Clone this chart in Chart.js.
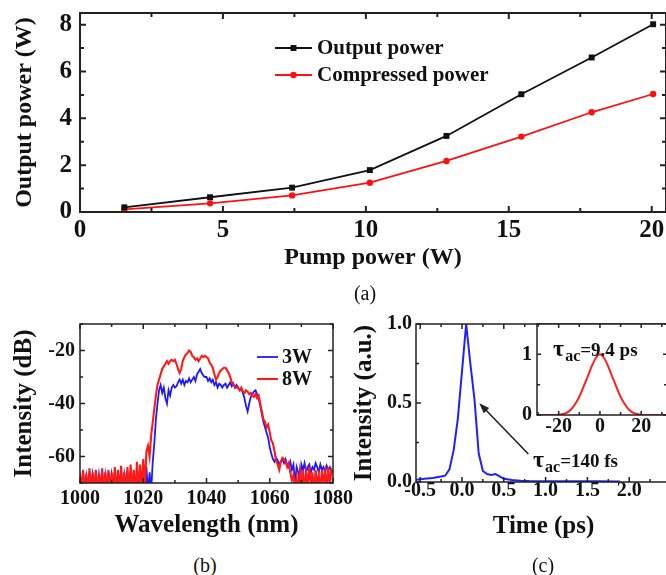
<!DOCTYPE html>
<html>
<head>
<meta charset="utf-8">
<script src="https://cdn.jsdelivr.net/npm/chart.js@4.4.0/dist/chart.umd.min.js"></script>
<style>
  body { margin: 0; width: 666px; height: 575px; overflow: hidden; background: #fff; position: relative; font-family: "Liberation Serif", "Times New Roman", serif; }
  canvas { position: absolute; }
  .tag { position: absolute; font-size: 20px; color: #111; transform: translate(-50%, -50%); }
</style>
</head>
<body>
<canvas id="chartA" width="672" height="278" style="left:0;top:0"></canvas>
<canvas id="chartB" width="370" height="250" style="left:0;top:300px"></canvas>
<canvas id="chartC" width="340" height="250" style="left:340px;top:300px"></canvas>
<canvas id="chartInset" width="175" height="125" style="left:505px;top:318px"></canvas>
<div class="tag" style="left:365px;top:293px">(a)</div>
<div class="tag" style="left:205px;top:565px">(b)</div>
<div class="tag" style="left:543px;top:565px">(c)</div>
<script>
// (a) output power vs pump power
const pumpPower = [1.55, 4.55, 7.42, 10.14, 12.82, 15.44, 17.9, 20.05];
const outputPower = [0.2, 0.63, 1.04, 1.79, 3.25, 5.03, 6.6, 8.02];
const compressedPower = [0.11, 0.37, 0.71, 1.25, 2.18, 3.22, 4.26, 5.04];
const pumpTicks = [0, 5, 10, 15, 20];
const powerTicks = [0, 2, 4, 6, 8];

// (b) spectra, 1000..1080 nm every 0.5 nm
const wavelength = [];
for (let i = 0; i <= 160; i++) wavelength.push(1000 + i * 0.5);
const spec3W = [
  -67, -72, -66, -73, -67.5, -72, -66, -73, -67, -72,
  -66, -73, -67, -72, -65.5, -73, -67, -72, -66, -73,
  -67, -72, -66, -73, -66.5, -72, -65.5, -73, -67, -72,
  -66, -73, -65.5, -72, -66, -73, -65, -72, -66, -73,
  -66, -74, -64, -74, -66, -73, -62, -55, -46, -40,
  -35, -33, -36, -34, -38, -40, -35, -37, -34, -33,
  -34, -33.5, -32, -31, -32.5, -31, -33, -31.5, -32, -30.5,
  -32, -31, -30, -31.5, -29, -28, -27, -28.5, -29.5, -30,
  -30, -31.5, -30.5, -32, -31, -33, -32, -34, -32.5, -33,
  -34, -33, -32.5, -34, -33, -32, -33.5, -32.5, -34, -33,
  -34, -35, -34.5, -36, -38, -41, -43, -40, -37.5, -36.5,
  -35.5, -35, -36.5, -38, -41, -44, -47, -49, -51, -53,
  -56.5, -59, -61, -62, -60.5, -61.5, -63, -62, -61, -62.5,
  -61, -63, -64, -62, -65, -63, -70, -64, -66, -71,
  -63, -65, -62.5, -66, -64, -63, -66, -64, -65, -62.5,
  -64, -66, -63, -65, -64, -66, -63.5, -65, -64, -66,
  -65
];
const spec8W = [
  -66, -74, -65, -75, -66.5, -74, -64.5, -75, -66, -74,
  -65, -75, -66.5, -74, -64.5, -75, -66, -74, -65, -75,
  -66, -74, -64, -75, -65, -74, -63.5, -75, -66, -74,
  -64, -75, -63, -74, -65, -75, -62, -74, -63, -73,
  -61, -72, -58, -56, -60, -52, -47, -42, -37, -33,
  -31, -29, -27, -26, -25, -24, -25, -24, -23.5, -24,
  -23.5, -25, -27, -28.5, -27, -24, -22.5, -21.5, -21, -20,
  -20.5, -22, -22.5, -23.5, -23, -24, -23, -22, -22.5, -22,
  -22.5, -23, -24.5, -25.5, -26.5, -29, -31, -30, -28.5, -27.5,
  -27, -26.5, -26.5, -27.5, -28.5, -30, -32, -33, -33.5, -34,
  -34, -35, -34, -35.5, -36, -35, -35.5, -36.5, -36, -37,
  -37.5, -36.5, -38, -37, -40, -43, -46, -47, -49, -48,
  -51, -54, -55, -58, -61.5, -63, -65, -62, -60.5, -61,
  -62, -64, -62.5, -66, -69, -67, -72, -68, -73, -66,
  -71, -65, -73, -66, -70, -64, -72, -66, -74, -65,
  -71, -67, -73, -65, -70, -66, -72, -64, -71, -65,
  -66
];
const wlTicks = [1000, 1020, 1040, 1060, 1080];
const dbTicks = [-60, -40, -20];

// (c) autocorrelation traces
const timePs = [-0.55, -0.45, -0.35, -0.25, -0.2, -0.15, -0.1, -0.05, 0.0, 0.05, 0.1, 0.15, 0.2, 0.25,
  0.3, 0.35, 0.4, 0.45, 0.5, 0.6, 0.7, 0.8, 1.0, 1.2, 1.4, 1.6, 1.89];
const acCompressed = [0.015, 0.02, 0.025, 0.035, 0.04, 0.08, 0.2, 0.4, 0.7, 1.0, 0.75, 0.52, 0.18, 0.07,
  0.05, 0.045, 0.05, 0.035, 0.02, 0.012, 0.008, 0.006, 0.005, 0.005, 0.004, 0.004, 0.003];
const timeTicks = [-0.5, 0.0, 0.5, 1.0, 1.5, 2.0];
const acTicks = [0.0, 0.5, 1.0];
const delayPs = [-30.5, -25, -21, -18, -16, -14, -12, -10, -8, -6, -4, -2, 0, 2, 4, 6, 8, 10, 12, 14, 16, 18, 21, 25, 32.5];
const acUncompressed = [0, 0, 0, 0.015, 0.04, 0.09, 0.18, 0.3, 0.46, 0.63, 0.8, 0.94, 1.0, 0.94, 0.8, 0.63, 0.46, 0.3, 0.18, 0.09, 0.04, 0.015, 0, 0, 0];
const delayTicks = [-20, 0, 20];
const insetTicks = [0, 1];

const serif = '"Liberation Serif", "Times New Roman", serif';
Chart.defaults.font.family = serif;
Chart.defaults.color = '#111';
Chart.defaults.animation = false;

const pts = (xs, ys) => xs.map((x, i) => ({x: x, y: ys[i]}));

function axis(o) {
  return {
    type: 'linear', min: o.min, max: o.max,
    grid: {display: false, drawTicks: false},
    border: {display: false},
    afterBuildTicks: s => { s.ticks = o.ticks.map(v => ({value: v})); },
    afterFit: s => {
      if (o.width != null) s.width = o.width;
      if (o.height != null) s.height = o.height;
      s.paddingTop = 0; s.paddingBottom = 0; s.paddingLeft = 0; s.paddingRight = 0;
    },
    ticks: {font: {size: o.size, weight: 'bold'}, padding: o.pad, maxRotation: 0, autoSkip: false,
      callback: o.fmt || (v => String(v))},
    title: o.title ? {display: true, text: o.title, font: {size: o.tsize, weight: 'bold'},
      padding: {top: o.tpad, bottom: o.tpad}} : {display: false}
  };
}

// frame on four sides with inward major/minor ticks
const framePlugin = {
  id: 'frame',
  beforeDraw(chart, args, opts) {
    if (!opts.fill) return;
    const a = chart.chartArea;
    chart.ctx.save();
    chart.ctx.fillStyle = opts.fill;
    chart.ctx.fillRect(a.left, a.top, a.right - a.left, a.bottom - a.top);
    chart.ctx.restore();
  },
  afterDraw(chart, args, opts) {
    if (!opts.xMinor) return;
    const {ctx, chartArea: a, scales} = chart;
    ctx.save();
    ctx.strokeStyle = '#222';
    ctx.lineWidth = opts.width;
    ctx.beginPath();
    const mark = (scale, minor, major, horiz) => {
      for (let i = Math.ceil(scale.min / minor - 1e-9); i * minor <= scale.max + 1e-9; i++) {
        const v = i * minor, r = v / major;
        const len = Math.abs(r - Math.round(r)) < 1e-6 ? opts.major : opts.minor;
        const p = scale.getPixelForValue(v);
        if (horiz) {
          ctx.moveTo(p, a.bottom); ctx.lineTo(p, a.bottom - len);
          ctx.moveTo(p, a.top); ctx.lineTo(p, a.top + len);
        } else {
          ctx.moveTo(a.left, p); ctx.lineTo(a.left + len, p);
          ctx.moveTo(a.right, p); ctx.lineTo(a.right - len, p);
        }
      }
    };
    mark(scales.x, opts.xMinor, opts.xMajor, true);
    mark(scales.y, opts.yMinor, opts.yMajor, false);
    ctx.stroke();
    ctx.strokeRect(a.left, a.top, a.right - a.left, a.bottom - a.top);
    ctx.restore();
  }
};

// legend drawn inside the plot
const boxLegend = {
  id: 'boxLegend',
  afterDraw(chart, args, opts) {
    if (!opts.order) return;
    const {ctx, chartArea: a} = chart;
    ctx.save();
    ctx.font = 'bold ' + opts.size + 'px ' + serif;
    ctx.textBaseline = 'middle';
    opts.order.forEach((idx, row) => {
      const ds = chart.data.datasets[idx];
      const x = a.left + opts.dx, y = a.top + opts.dy + row * opts.gap;
      ctx.strokeStyle = ds.borderColor;
      ctx.lineWidth = ds.borderWidth;
      ctx.beginPath(); ctx.moveTo(x, y); ctx.lineTo(x + opts.len, y); ctx.stroke();
      if (ds.pointRadius) {
        ctx.fillStyle = ds.borderColor;
        ctx.beginPath();
        const cx = x + opts.len / 2;
        if (ds.pointStyle === 'rect') {
          const s = ds.pointRadius * Math.SQRT1_2;
          ctx.rect(cx - s, y - s, 2 * s, 2 * s);
        } else {
          ctx.arc(cx, y, ds.pointRadius, 0, Math.PI * 2);
        }
        ctx.fill();
      }
      ctx.fillStyle = '#111';
      ctx.fillText(ds.label, x + opts.len + opts.pad, y + 1);
    });
    ctx.restore();
  }
};

// arrows and tau labels placed by data coordinates
const notes = {
  id: 'notes',
  afterDraw(chart, args, opts) {
    const {ctx, scales: {x, y}} = chart;
    ctx.save();
    (opts.arrows || []).forEach(ar => {
      const x0 = x.getPixelForValue(ar.from[0]), y0 = y.getPixelForValue(ar.from[1]);
      const x1 = x.getPixelForValue(ar.to[0]), y1 = y.getPixelForValue(ar.to[1]);
      const ang = Math.atan2(y1 - y0, x1 - x0);
      ctx.strokeStyle = '#222'; ctx.fillStyle = '#222'; ctx.lineWidth = 1.6;
      ctx.beginPath(); ctx.moveTo(x0, y0);
      ctx.lineTo(x1 - 8 * Math.cos(ang), y1 - 8 * Math.sin(ang)); ctx.stroke();
      ctx.beginPath(); ctx.moveTo(x1, y1);
      ctx.lineTo(x1 - 11 * Math.cos(ang - 0.35), y1 - 11 * Math.sin(ang - 0.35));
      ctx.lineTo(x1 - 11 * Math.cos(ang + 0.35), y1 - 11 * Math.sin(ang + 0.35));
      ctx.closePath(); ctx.fill();
    });
    (opts.labels || []).forEach(lb => {
      let px = x.getPixelForValue(lb.at[0]);
      const py = y.getPixelForValue(lb.at[1]);
      ctx.fillStyle = '#111'; ctx.textBaseline = 'alphabetic'; ctx.textAlign = 'left';
      ctx.font = 'bold 24px ' + serif; ctx.fillText('τ', px, py); px += ctx.measureText('τ').width + 1;
      ctx.font = 'bold 16px ' + serif; ctx.fillText(lb.sub, px, py + 5); px += ctx.measureText(lb.sub).width;
      ctx.font = 'bold 19px ' + serif; ctx.fillText(lb.text, px, py);
    });
    ctx.restore();
  }
};

Chart.register(framePlugin, boxLegend, notes);

new Chart(document.getElementById('chartA'), {
  type: 'line',
  data: {
    datasets: [
      {label: 'Output power', data: pts(pumpPower, outputPower), borderColor: '#111', backgroundColor: '#111',
        borderWidth: 1.8, pointStyle: 'rect', pointRadius: 4.2, pointBorderWidth: 0},
      {label: 'Compressed power', data: pts(pumpPower, compressedPower), borderColor: '#ff1010', backgroundColor: '#ff1010',
        borderWidth: 1.8, pointStyle: 'circle', pointRadius: 3.2, pointBorderWidth: 0}
    ]
  },
  options: {
    responsive: false,
    layout: {padding: {top: 13, right: 6, left: 0, bottom: 0}},
    scales: {
      x: axis({min: 0, max: 20.5, ticks: pumpTicks, size: 25, pad: 4, height: 66,
        title: 'Pump power (W)', tsize: 24, tpad: 6}),
      y: axis({min: 0, max: 8.5, ticks: powerTicks, size: 25, pad: 8, width: 80,
        title: 'Output power (W)', tsize: 24, tpad: 10})
    },
    plugins: {
      legend: {display: false}, tooltip: {enabled: false},
      frame: {xMajor: 5, xMinor: 2.5, yMajor: 2, yMinor: 1, major: 6, minor: 4, width: 2},
      boxLegend: {order: [0, 1], dx: 195, dy: 35, gap: 27, len: 37, pad: 5, size: 21}
    }
  }
});

new Chart(document.getElementById('chartB'), {
  type: 'line',
  data: {
    datasets: [
      {label: '3W', data: pts(wavelength, spec3W), borderColor: '#1a1aff', borderWidth: 1.8, pointRadius: 0, order: 2},
      {label: '8W', data: pts(wavelength, spec8W), borderColor: '#ff1a1a', borderWidth: 2.1, pointRadius: 0, order: 1}
    ]
  },
  options: {
    responsive: false,
    layout: {padding: {top: 24, right: 37, left: 0, bottom: 0}},
    scales: {
      x: axis({min: 1000, max: 1080, ticks: wlTicks, size: 20, pad: 4, height: 67,
        title: 'Wavelength (nm)', tsize: 25, tpad: 9}),
      y: axis({min: -70, max: -10, ticks: dbTicks, size: 20, pad: 5, width: 80,
        title: 'Intensity (dB)', tsize: 25, tpad: 10})
    },
    plugins: {
      legend: {display: false}, tooltip: {enabled: false},
      frame: {xMajor: 20, xMinor: 10, yMajor: 20, yMinor: 10, major: 5, minor: 3, width: 1.5},
      boxLegend: {order: [0, 1], dx: 177, dy: 33, gap: 22, len: 21, pad: 4, size: 20}
    }
  }
});

new Chart(document.getElementById('chartC'), {
  type: 'line',
  data: {
    datasets: [
      {label: 'Compressed', data: pts(timePs, acCompressed), borderColor: '#2020ff', borderWidth: 2, pointRadius: 0}
    ]
  },
  options: {
    responsive: false,
    layout: {padding: {top: 24, right: 9, left: 0, bottom: 0}},
    scales: {
      x: axis({min: -0.55, max: 2.5, ticks: timeTicks, size: 20, pad: -3, height: 68, fmt: v => v.toFixed(1),
        title: 'Time (ps)', tsize: 25, tpad: 8}),
      y: axis({min: 0, max: 1, ticks: acTicks, size: 20, pad: 4, width: 76, fmt: v => v.toFixed(1),
        title: 'Intensity (a.u.)', tsize: 25, tpad: 10})
    },
    plugins: {
      legend: {display: false}, tooltip: {enabled: false},
      frame: {xMajor: 0.5, xMinor: 0.25, yMajor: 0.5, yMinor: 0.25, major: 5, minor: 3, width: 1.5},
      notes: {arrows: [{from: [0.794, 0.177], to: [0.207, 0.498]}],
        labels: [{at: [0.85, 0.095], sub: 'ac', text: '=140 fs'}]}
    }
  }
});

new Chart(document.getElementById('chartInset'), {
  type: 'line',
  data: {
    datasets: [
      {label: 'Uncompressed', data: pts(delayPs, acUncompressed), borderColor: '#ff2020', borderWidth: 2,
        pointRadius: 0, cubicInterpolationMode: 'monotone'}
    ]
  },
  options: {
    responsive: false,
    layout: {padding: {top: 6, right: 13, left: 0, bottom: 0}},
    scales: {
      x: axis({min: -30.5, max: 32.5, ticks: delayTicks, size: 20, pad: 0, height: 28}),
      y: axis({min: 0, max: 1.5, ticks: insetTicks, size: 20, pad: 5, width: 32})
    },
    plugins: {
      legend: {display: false}, tooltip: {enabled: false},
      frame: {fill: '#fff', xMajor: 20, xMinor: 10, yMajor: 1, yMinor: 0.5, major: 4, minor: 3, width: 1.5},
      notes: {labels: [{at: [-22.7, 0.98], sub: 'ac', text: '=9.4 ps'}]}
    }
  }
});
</script>
</body>
</html>
